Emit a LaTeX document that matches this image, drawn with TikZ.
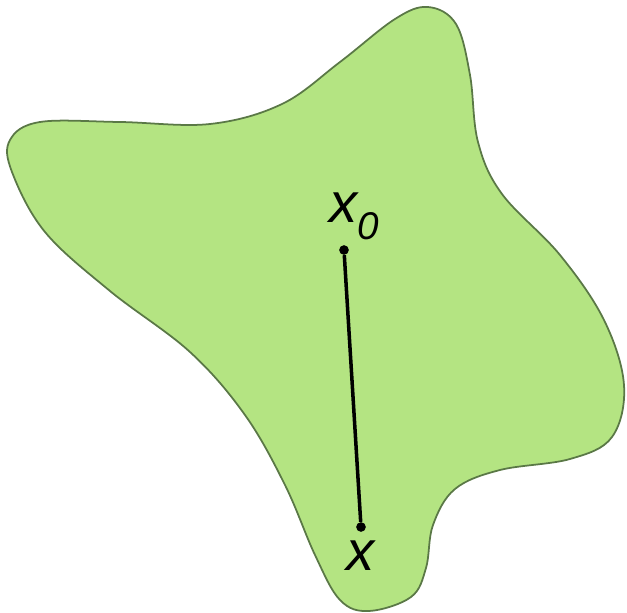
\documentclass[tikz,border=0pt]{standalone}
\usepackage{fontspec}
\setmainfont{Liberation Sans}
\begin{document}
\begin{tikzpicture}[x=0.02cm,y=-0.02cm,
  region/.style={fill={rgb,255:red,180;green,228;blue,130},draw={rgb,255:red,90;green,120;blue,70},line width=1pt},
  dot/.style={circle,fill=black,inner sep=0pt,minimum size=5.5pt},
  lbl/.style={font=\fontsize{32}{36}\selectfont\itshape,inner sep=0pt}]
\useasboundingbox (0,0) rectangle (627,613);
\draw[region] plot[smooth cycle,tension=0.6] coordinates {
 (428,7) (456,24) (470,75) (478,142) (502,194) (560,255) (604,320) (624,385)
 (612,437) (570,459) (500,470) (455,489) (433,525) (426,568) (411,597) (369,611)
 (340,600) (315,555) (285,485) (245,415) (190,352) (110,291) (45,232) (12,172)
 (10,140) (40,122) (120,122) (210,124) (282,104) (340,62) (395,19)};
\node[dot] (x0) at (344,250) {};
\node[dot] (x) at (361,527) {};
\draw[line width=2pt] (x0) -- (x);
\node[lbl] (lx0) at (354,216) {x\raisebox{-0.3em}{\fontsize{22}{24}\selectfont 0}};
\node[lbl] (lx) at (361,556) {x};
\end{tikzpicture}
\end{document}
